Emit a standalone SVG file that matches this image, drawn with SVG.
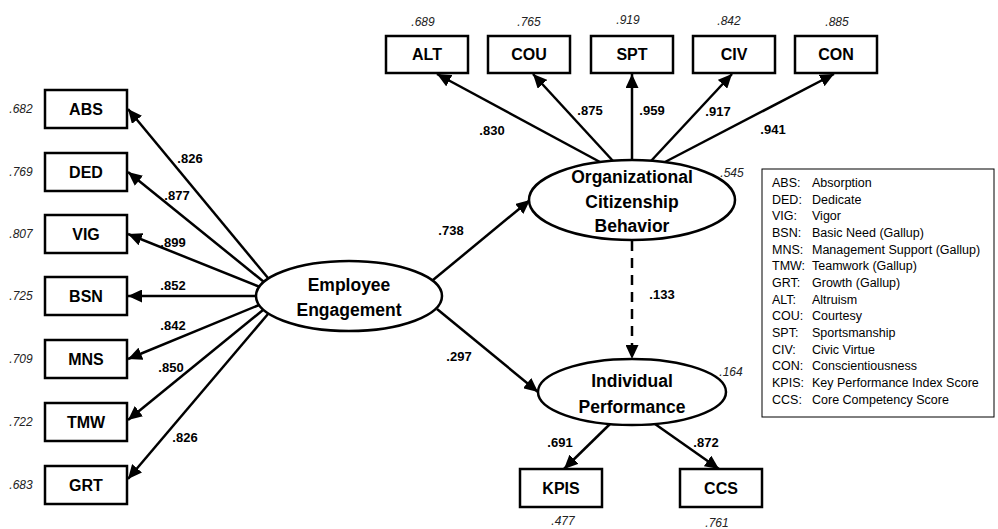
<svg xmlns="http://www.w3.org/2000/svg" width="998" height="529" viewBox="0 0 998 529">
<style>
.box{fill:#fff;stroke:#000;stroke-width:2.5}
.ell{fill:#fff;stroke:#000;stroke-width:2.5}
.bl{font-family:"Liberation Sans",Arial,sans-serif;font-weight:bold;font-size:16px;text-anchor:middle;fill:#000}
.el{font-family:"Liberation Sans",Arial,sans-serif;font-weight:bold;font-size:17.5px;text-anchor:middle;fill:#000}
.co{font-family:"Liberation Sans",Arial,sans-serif;font-weight:bold;font-size:13px;text-anchor:middle;fill:#000}
.va{font-family:"Liberation Sans",Arial,sans-serif;font-style:italic;font-size:12px;text-anchor:middle;fill:#222}
.lg{font-family:"Liberation Sans",Arial,sans-serif;font-size:12.5px;fill:#000}
.ln{stroke:#000;stroke-width:2.5;fill:none;marker-end:url(#ah)}
.dash{stroke-dasharray:10 7}
</style>
<defs>
<marker id="ah" markerUnits="userSpaceOnUse" markerWidth="16" markerHeight="13" refX="14" refY="6.5" orient="auto">
<path d="M0,0 L14,6.5 L0,13 z" fill="#000"/>
</marker>
</defs>
<rect width="998" height="529" fill="#fff"/>

<g id="connectors">
<line class="ln" x1="268" y1="278" x2="128" y2="109"/>
<line class="ln" x1="264" y1="282" x2="128" y2="172"/>
<line class="ln" x1="260" y1="287" x2="128" y2="234"/>
<line class="ln" x1="256" y1="296" x2="128" y2="296"/>
<line class="ln" x1="259" y1="305" x2="128" y2="359"/>
<line class="ln" x1="263" y1="310" x2="128" y2="420"/>
<line class="ln" x1="268" y1="314" x2="128" y2="479"/>
<line class="ln" x1="600" y1="162" x2="437" y2="74"/>
<line class="ln" x1="613" y1="161" x2="533" y2="74"/>
<line class="ln" x1="632" y1="160" x2="632" y2="74"/>
<line class="ln" x1="651" y1="161" x2="732" y2="74"/>
<line class="ln" x1="665" y1="162" x2="834" y2="74"/>
<line class="ln" x1="433" y1="280" x2="530" y2="200"/>
<line class="ln" x1="437" y1="309" x2="538" y2="392"/>
<line class="ln dash" x1="632" y1="241" x2="632" y2="359"/>
<line class="ln" x1="610" y1="424" x2="564" y2="469"/>
<line class="ln" x1="655" y1="424" x2="719" y2="469"/>
<text class="co" x="190" y="163">.826</text>
<text class="co" x="177" y="200">.877</text>
<text class="co" x="173" y="247">.899</text>
<text class="co" x="173" y="290">.852</text>
<text class="co" x="173" y="330">.842</text>
<text class="co" x="171" y="372">.850</text>
<text class="co" x="185" y="442">.826</text>
<text class="co" x="492" y="135">.830</text>
<text class="co" x="590" y="115">.875</text>
<text class="co" x="652" y="115">.959</text>
<text class="co" x="718" y="116">.917</text>
<text class="co" x="773" y="134">.941</text>
<text class="co" x="451" y="235">.738</text>
<text class="co" x="459" y="361">.297</text>
<text class="co" x="662" y="299">.133</text>
<text class="co" x="560" y="447">.691</text>
<text class="co" x="706" y="447">.872</text>
</g>

<g id="ABS"><rect class="box" x="45" y="90" width="82" height="38"/><text class="bl" x="86" y="115">ABS</text><text class="va" x="21" y="113">.682</text></g>
<g id="DED"><rect class="box" x="45" y="153" width="82" height="38"/><text class="bl" x="86" y="178">DED</text><text class="va" x="21" y="176">.769</text></g>
<g id="VIG"><rect class="box" x="45" y="215" width="82" height="38"/><text class="bl" x="86" y="240">VIG</text><text class="va" x="21" y="238">.807</text></g>
<g id="BSN"><rect class="box" x="45" y="277" width="82" height="38"/><text class="bl" x="86" y="302">BSN</text><text class="va" x="21" y="300">.725</text></g>
<g id="MNS"><rect class="box" x="45" y="340" width="82" height="38"/><text class="bl" x="86" y="365">MNS</text><text class="va" x="21" y="363">.709</text></g>
<g id="TMW"><rect class="box" x="45" y="403" width="82" height="38"/><text class="bl" x="86" y="428">TMW</text><text class="va" x="21" y="426">.722</text></g>
<g id="GRT"><rect class="box" x="45" y="466" width="82" height="38"/><text class="bl" x="86" y="491">GRT</text><text class="va" x="21" y="489">.683</text></g>

<g id="ALT"><rect class="box" x="386" y="36" width="82" height="37"/><text class="bl" x="427" y="60">ALT</text><text class="va" x="423" y="26">.689</text></g>
<g id="COU"><rect class="box" x="488" y="36" width="82" height="37"/><text class="bl" x="529" y="60">COU</text><text class="va" x="529" y="26">.765</text></g>
<g id="SPT"><rect class="box" x="591" y="36" width="82" height="37"/><text class="bl" x="632" y="60">SPT</text><text class="va" x="628" y="24">.919</text></g>
<g id="CIV"><rect class="box" x="693" y="36" width="82" height="37"/><text class="bl" x="734" y="60">CIV</text><text class="va" x="729" y="25">.842</text></g>
<g id="CON"><rect class="box" x="795" y="36" width="82" height="37"/><text class="bl" x="836" y="60">CON</text><text class="va" x="837" y="26">.885</text></g>

<g id="EE"><ellipse class="ell" cx="349" cy="296" rx="93" ry="35"/><text class="el" x="349" y="291">Employee</text><text class="el" x="349" y="316">Engagement</text></g>
<g id="OCB"><ellipse class="ell" cx="632" cy="200" rx="103" ry="40"/><text class="el" x="632" y="183">Organizational</text><text class="el" x="632" y="208">Citizenship</text><text class="el" x="632" y="232">Behavior</text><text class="va" x="732" y="177">.545</text></g>
<g id="IP"><ellipse class="ell" cx="632" cy="392" rx="94" ry="33"/><text class="el" x="632" y="387">Individual</text><text class="el" x="632" y="413">Performance</text><text class="va" x="731" y="376">.164</text></g>

<g id="KPIS"><rect class="box" x="520" y="469" width="82" height="38"/><text class="bl" x="561" y="494">KPIS</text><text class="va" x="563" y="525">.477</text></g>
<g id="CCS"><rect class="box" x="680" y="469" width="82" height="38"/><text class="bl" x="721" y="494">CCS</text><text class="va" x="717" y="527">.761</text></g>

<g id="legend">
<rect x="762" y="169" width="232" height="248" fill="#fff" stroke="#000" stroke-width="1"/>
<text class="lg" x="772" y="187">ABS:</text><text class="lg" x="812" y="187">Absorption</text>
<text class="lg" x="772" y="204">DED:</text><text class="lg" x="812" y="204">Dedicate</text>
<text class="lg" x="772" y="220">VIG:</text><text class="lg" x="812" y="220">Vigor</text>
<text class="lg" x="772" y="237">BSN:</text><text class="lg" x="812" y="237">Basic Need (Gallup)</text>
<text class="lg" x="772" y="254">MNS:</text><text class="lg" x="812" y="254">Management Support (Gallup)</text>
<text class="lg" x="772" y="270">TMW:</text><text class="lg" x="812" y="270">Teamwork (Gallup)</text>
<text class="lg" x="772" y="287">GRT:</text><text class="lg" x="812" y="287">Growth (Gallup)</text>
<text class="lg" x="772" y="304">ALT:</text><text class="lg" x="812" y="304">Altruism</text>
<text class="lg" x="772" y="320">COU:</text><text class="lg" x="812" y="320">Courtesy</text>
<text class="lg" x="772" y="337">SPT:</text><text class="lg" x="812" y="337">Sportsmanship</text>
<text class="lg" x="772" y="354">CIV:</text><text class="lg" x="812" y="354">Civic Virtue</text>
<text class="lg" x="772" y="370">CON:</text><text class="lg" x="812" y="370">Conscientiousness</text>
<text class="lg" x="772" y="387">KPIS:</text><text class="lg" x="812" y="387">Key Performance Index Score</text>
<text class="lg" x="772" y="404">CCS:</text><text class="lg" x="812" y="404">Core Competency Score</text>
</g>
</svg>
